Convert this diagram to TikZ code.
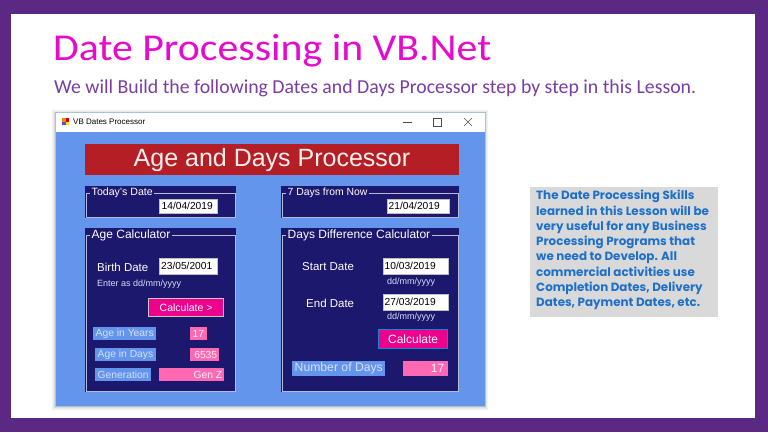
\documentclass[tikz,border=0pt]{standalone}
\usepackage{fontspec}
\setmainfont{Liberation Sans}
\newfontfamily\slidefont{Carlito}
\newfontfamily\notefont{Poppins}
\usetikzlibrary{calc}
\usepackage{xcolor}
\definecolor{slidepurple}{RGB}{91,40,131}
\definecolor{titlemagenta}{RGB}{230,10,205}
\definecolor{subpurple}{RGB}{122,62,162}
\definecolor{formblue}{RGB}{100,149,237}
\definecolor{groupnavy}{RGB}{27,24,110}
\definecolor{bannerred}{RGB}{180,30,36}
\definecolor{valuepink}{RGB}{255,105,180}
\definecolor{notegray}{RGB}{217,217,217}
\definecolor{noteblue}{RGB}{31,112,200}
\definecolor{framegray}{RGB}{185,185,210}
\definecolor{paletext}{RGB}{214,222,246}

\tikzset{
 datebox/.style={draw=gray!50, fill=white, inner sep=0, anchor=north west},
 datetext/.style={anchor=west, inner sep=0, text=black, font=\fontsize{10.2}{12}\selectfont},
 grouplabel/.style={fill=groupnavy, text=white, inner xsep=1.5, inner ysep=0, anchor=west},
 fieldlabel/.style={anchor=west, inner sep=0, text=white, font=\fontsize{11.5}{13}\selectfont},
 hintlabel/.style={inner sep=0, text=paletext, font=\fontsize{9}{10}\selectfont},
 outlabel/.style={fill=formblue, text=paletext, anchor=north west, inner xsep=2.5, inner ysep=0, minimum height=13, font=\fontsize{10.3}{12}\selectfont},
 valuebox/.style={fill=valuepink, inner sep=0, anchor=north west},
 valuetext/.style={anchor=east, inner sep=0, text=white!92!valuepink, font=\fontsize{10.3}{12}\selectfont},
 button/.style={fill=magenta, text=white, inner sep=0, anchor=north west, line width=1.2},
}

% navy group box with its frame and caption
\newcommand{\groupbox}[7]{%
 \fill[groupnavy] (#1,#2) rectangle (#3,#4);
 \draw[framegray, line width=0.6] (#1+1,#2+7) rectangle (#3-1,#4-1);
 \node[grouplabel, font=\fontsize{#7}{#7}\selectfont] (#6) at (#1+5,#2+7) {#5};
}

\begin{document}
\begin{tikzpicture}[x=1pt,y=-1pt]
\useasboundingbox (0,0) rectangle (768,432);
\fill[slidepurple] (0,0) rectangle (768,432);
\fill[white] (11,14) rectangle (755,418);

% slide heading
\node[anchor=base west, inner sep=0, xscale=1.1, text=titlemagenta, font=\slidefont\fontsize{38}{40}\selectfont] (title) at (53,60) {Date Processing in VB.Net};
\node[anchor=base west, inner sep=0, text=subpurple, font=\slidefont\fontsize{19.8}{22}\selectfont] (subtitle) at (54,93) {We will Build the following Dates and Days Processor step by step in this Lesson.};

% window with shadow
\foreach \s/\c in {3/5,2/9,1/14} {
 \fill[black!\c] (55-\s,112-\s+1) rectangle (485+\s,406+\s+1);
}
\fill[formblue] (55,112) rectangle (485,406);
\fill[white] (55,112) rectangle (485,132);
\draw[cyan!40!gray!60, line width=0.6] (55,112) rectangle (485,406);

% title bar
\fill[orange] (62,118) rectangle (65.5,121.5);
\fill[red!80!black] (65.5,118) rectangle (69,121.5);
\fill[blue!70] (62,121.5) rectangle (65.5,125);
\fill[yellow!80!orange] (65.5,121.5) rectangle (69,125);
\node[anchor=west, inner sep=0, font=\fontsize{8}{9}\selectfont] (wintitle) at (73,122) {VB Dates Processor};
\draw[black!70, line width=0.6] (403,122) -- (412,122);
\draw[black!70, line width=0.6] (433,118) rectangle (441,126);
\draw[black!70, line width=0.6] (464,118) -- (472,126) (464,126) -- (472,118);

% banner
\fill[bannerred] (85,144) rectangle (459,175);
\node[text=white!94!red, inner sep=0, font=\fontsize{25}{28}\selectfont] (banner) at (272,160) {Age and Days Processor};

% top group boxes
\groupbox{85}{186}{236}{218}{Today's Date}{todaylbl}{10.6}
\node[datebox, minimum width=58, minimum height=14] (today) at (159,199) {};
\node[datetext] (todayval) at ($(today.west)+(2.5,0)$) {14/04/2019};

\groupbox{281}{186}{459}{218}{7 Days from Now}{weeklbl}{10.4}
\node[datebox, minimum width=62, minimum height=14] (week) at (387,199) {};
\node[datetext] (weekval) at ($(week.west)+(1.5,0)$) {21/04/2019};

% age calculator
\groupbox{85}{228}{236}{392}{Age Calculator}{agelbl}{12}
\node[fieldlabel] (birthlbl) at (97,267) {Birth Date};
\node[datebox, minimum width=58, minimum height=16] (birth) at (159,258) {};
\node[datetext] (birthval) at ($(birth.west)+(2,0)$) {23/05/2001};
\node[hintlabel, anchor=west] (birthhint) at (97,284) {Enter as dd/mm/yyyy};
\node[button, draw=gray!45, minimum width=75, minimum height=18, font=\fontsize{10.5}{12}\selectfont] (agecalc) at (148,298) {Calculate >};

\node[outlabel] (yearslbl) at (93,327) {Age in Years};
\node[valuebox, minimum width=17, minimum height=13] (years) at (190,327) {};
\node[valuetext] at ($(years.east)+(-3,0)$) {17};
\node[outlabel] (dayslbl) at (95,348) {Age in Days};
\node[valuebox, minimum width=29, minimum height=13] (days) at (190,348) {};
\node[valuetext] at ($(days.east)+(-2,0)$) {6535};
\node[outlabel] (genlbl) at (95,368) {Generation};
\node[valuebox, minimum width=65, minimum height=13] (gen) at (159,368) {};
\node[valuetext] at ($(gen.east)+(-2,0)$) {Gen Z};

% days difference calculator
\groupbox{281}{228}{459}{392}{Days Difference Calculator}{difflbl}{12}
\node[fieldlabel] (startlbl) at (302,267) {Start Date};
\node[datebox, minimum width=65, minimum height=16] (start) at (383,258) {};
\node[datetext] (startval) at ($(start.west)+(1.5,0)$) {10/03/2019};
\node[hintlabel] (starthint) at (411,282) {dd/mm/yyyy};
\node[fieldlabel] (endlbl) at (306,303) {End Date};
\node[datebox, minimum width=65, minimum height=16] (end) at (383,294) {};
\node[datetext] (endval) at ($(end.west)+(1.5,0)$) {27/03/2019};
\node[hintlabel] (endhint) at (411,317) {dd/mm/yyyy};
\node[button, draw=cyan!70!blue, minimum width=69, minimum height=19, font=\fontsize{12}{14}\selectfont] (diffcalc) at (378,329) {Calculate};

\node[outlabel, minimum height=15, font=\fontsize{12.2}{14}\selectfont] (numlbl) at (292,361) {Number of Days};
\node[valuebox, minimum width=45, minimum height=15] (num) at (403,361) {};
\node[valuetext, font=\fontsize{12}{14}\selectfont] at ($(num.east)+(-4,0)$) {17};

% side note
\fill[notegray] (530,187) rectangle (718,317);
\node[anchor=north west, inner sep=0, align=left, text=noteblue, font=\notefont\bfseries\fontsize{11.9}{15.3}\selectfont] (note) at (536,190) {The Date Processing Skills\\learned in this Lesson will be\\very useful for any Business\\Processing Programs that\\we need to Develop. All\\commercial activities use\\Completion Dates, Delivery\\Dates, Payment Dates, etc.};
\end{tikzpicture}
\end{document}
